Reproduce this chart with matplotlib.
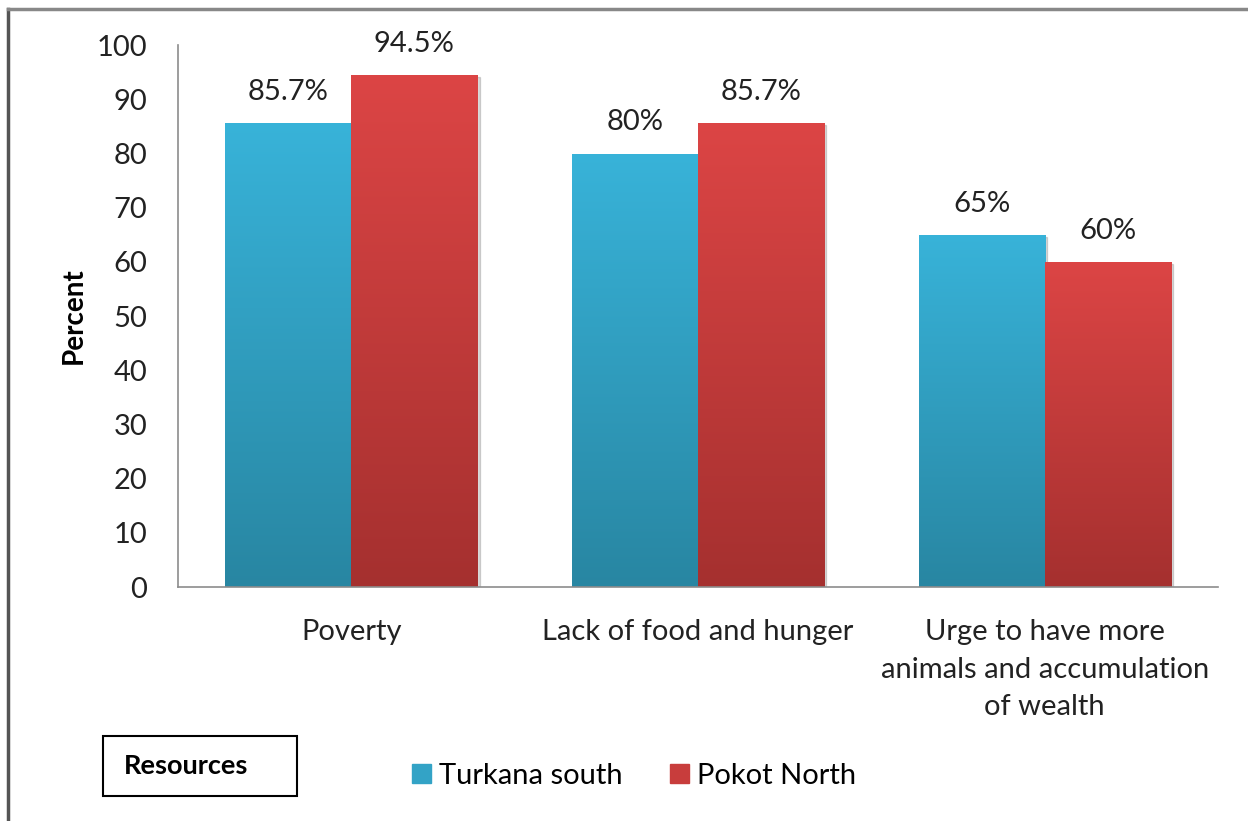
import matplotlib
matplotlib.use('Agg')
import matplotlib.pyplot as plt
import numpy as np
from matplotlib.colors import LinearSegmentedColormap
from matplotlib.patches import Rectangle

# Causes of raids - Turkana south vs Pokot North
categories = ["Poverty", "Lack of food and hunger",
              "Urge to have more\nanimals and accumulation\nof wealth"]
turkana = [85.7, 80, 65]
pokot = [94.5, 85.7, 60]
turkana_labels = ["85.7%", "80%", "65%"]
pokot_labels = ["94.5%", "85.7%", "60%"]
yticks = [0, 10, 20, 30, 40, 50, 60, 70, 80, 90, 100]

plt.rcParams['font.family'] = ['Lato', 'DejaVu Sans']

fig = plt.figure(figsize=(12.48, 8.21), dpi=100)
ax = fig.add_axes([0.1426, 0.285, 0.8334, 0.66])

x = np.arange(len(categories))
w = 0.364
blue_cmap = LinearSegmentedColormap.from_list('b', ['#2886a2', '#38b3d9'])
red_cmap = LinearSegmentedColormap.from_list('r', ['#a5302f', '#dc4545'])

b1 = ax.bar(x - w / 2, turkana, w, color='#33a3c6', zorder=2)
b2 = ax.bar(x + w / 2, pokot, w, color='#c83d3c', zorder=2)

grad = np.linspace(0, 1, 256).reshape(-1, 1)
for bars, cmap in [(b1, blue_cmap), (b2, red_cmap)]:
    for bar in bars:
        bx, by = bar.get_x(), bar.get_y()
        bw, bh = bar.get_width(), bar.get_height()
        # soft shadow to the right
        sh = Rectangle((bx + 0.006, by), bw, bh - 0.4, color='#000000',
                       alpha=0.15, zorder=1)
        ax.add_patch(sh)
        im = ax.imshow(grad, cmap=cmap, origin='lower', aspect='auto',
                       extent=[bx, bx + bw, by, by + bh], zorder=2.5)
        im.set_clip_path(bar)

for bars, labels in [(b1, turkana_labels), (b2, pokot_labels)]:
    for bar, lab in zip(bars, labels):
        ax.annotate(lab, (bar.get_x() + bar.get_width() / 2, bar.get_height()),
                    xytext=(0, 13), textcoords='offset points', ha='center',
                    va='bottom', fontsize=21, color='#222222')

ax.set_xlim(-0.5, 2.5)
ax.set_ylim(0, 100)
ax.set_yticks(yticks)
ax.set_yticklabels([str(t) for t in yticks], fontsize=21, color='#222222')
ax.set_xticks(x)
ax.set_xticklabels(categories, fontsize=21, color='#222222', linespacing=1.56,
                   va='top')
ax.tick_params(axis='y', length=0, pad=22)
ax.tick_params(axis='x', length=0, pad=23)
ax.set_ylabel("Percent", fontsize=20, fontweight='bold', labelpad=7)
for s in ['top', 'right']:
    ax.spines[s].set_visible(False)
for s in ['left', 'bottom']:
    ax.spines[s].set_color('#8c8c8c')
    ax.spines[s].set_linewidth(1.2)

# legend
handles = [Rectangle((0, 0), 1, 1, color='#33a3c6'),
           Rectangle((0, 0), 1, 1, color='#c83d3c')]
fig.legend(handles, ["Turkana south", "Pokot North"], loc='center',
           bbox_to_anchor=(0.508, 0.055), ncol=2, frameon=False, fontsize=21,
           handlelength=0.65, handleheight=0.65, handletextpad=0.3,
           columnspacing=1.6)

# "Resources" box
fig.text(0.099, 0.067, "Resources", fontsize=19.5, fontweight='bold',
         va='center', ha='left')
fig.patches.append(Rectangle((0.0825, 0.031), 0.1555, 0.073, fill=False,
                             edgecolor='black', linewidth=1.5,
                             transform=fig.transFigure, figure=fig))

# outer frame lines (left and top)
fig.add_artist(plt.Line2D([0.0065, 0.0065], [0, 0.989], color='#555555',
                          linewidth=2.5, transform=fig.transFigure))
fig.add_artist(plt.Line2D([0.0065, 1], [0.989, 0.989], color='#888888',
                          linewidth=2.5, transform=fig.transFigure))

fig.savefig('out.png', dpi=100)
